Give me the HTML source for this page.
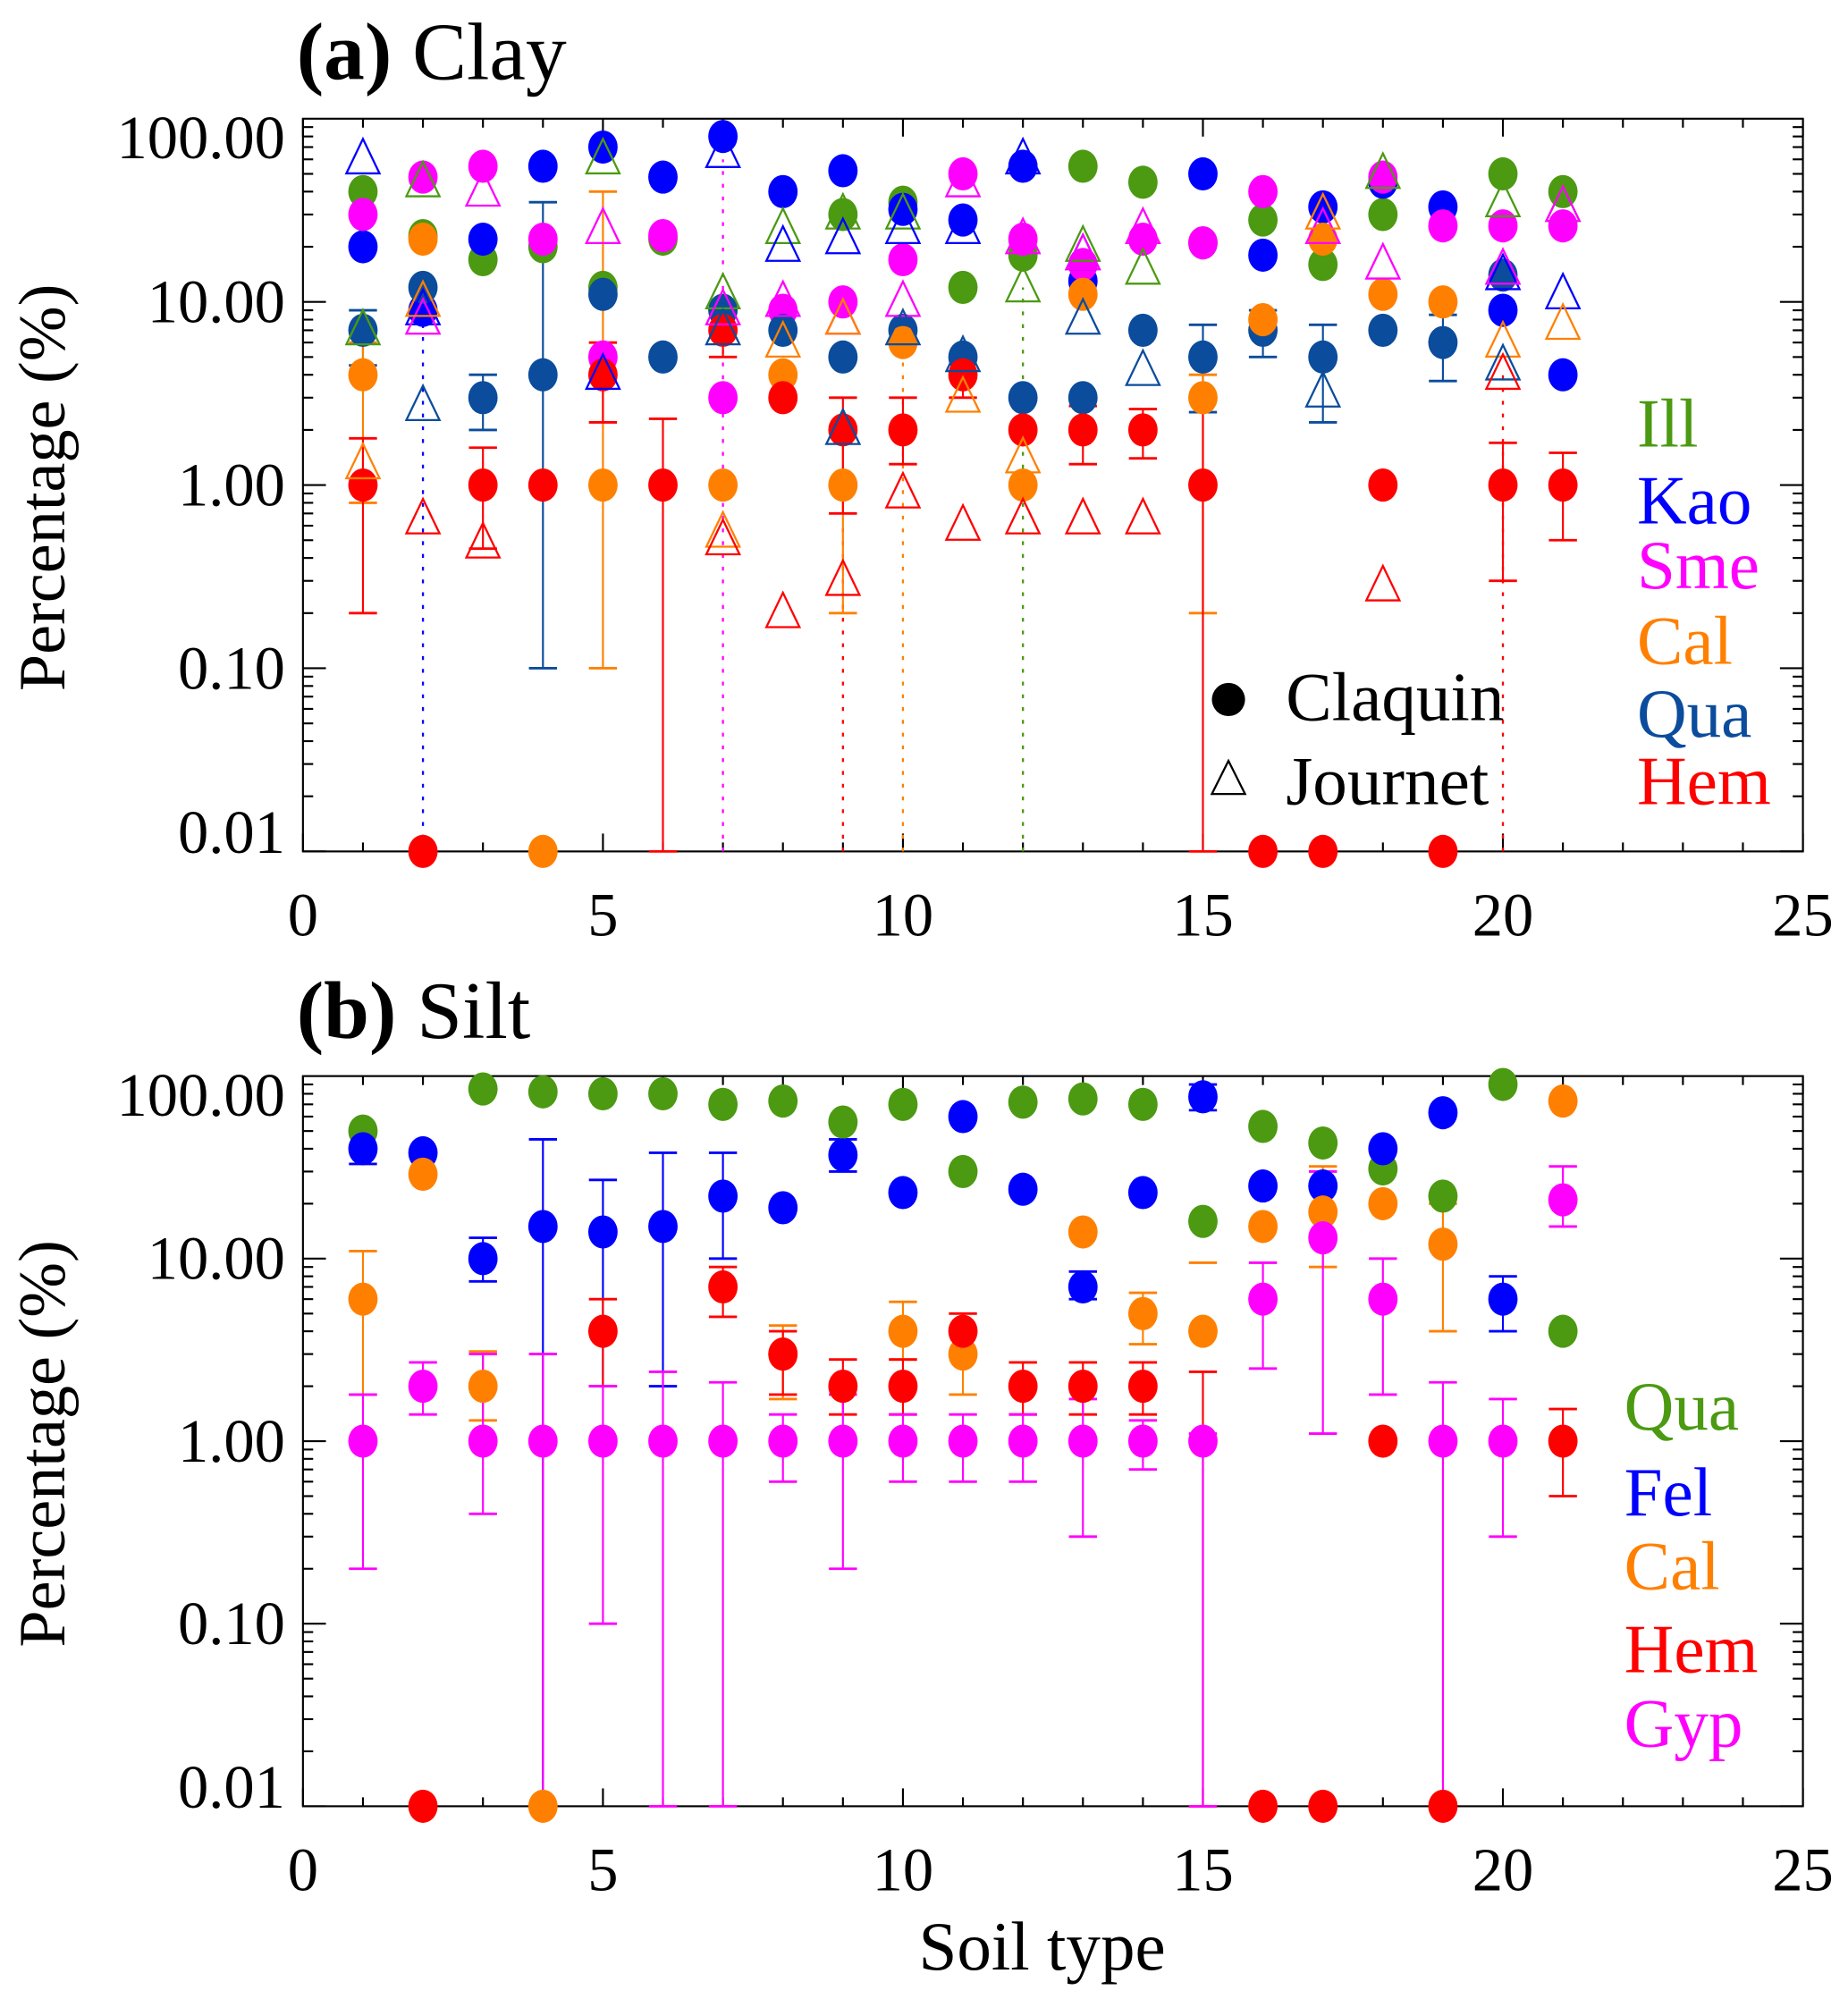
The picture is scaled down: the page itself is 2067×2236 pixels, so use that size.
<!DOCTYPE html>
<html><head><meta charset="utf-8"><style>
html,body{margin:0;padding:0;background:#fff}
svg{display:block}
text{font-family:"Liberation Serif",serif}
</style></head><body>
<svg id="fig" width="2067" height="2236" viewBox="0 0 1447 1566" xmlns="http://www.w3.org/2000/svg"></svg>
<script>
// ---------- data ----------
const soilTypes = [1,2,3,4,5,6,7,8,9,10,11,12,13,14,15,16,17,18,19,20,21];
// Panel (a) Clay - Claquin (filled circles)
const clayIll = [40,23,17,20,12,22,9,null,30,35,12,18,55,45,21,28,16,30,null,50,40];
const clayKao = [20,9,22,55,70,48,80,40,52,32,28,55,13,null,50,18,33,45,33,9,4];
const claySme = [30,48,55,22,5,23,3,9,10,17,50,22,16,22,21,40,null,48,26,26,26];
const clayCal = [4,22,null,0.01,1,null,1,4,1,6,null,1,11,null,3,8,22,11,10,null,null];
const clayQua = [7,12,3,4,11,5,9,7,5,7,5,3,3,7,5,7,5,7,6,14,null];
const clayHem = [1,0.01,1,1,4,1,7,3,2,2,4,2,2,2,1,0.01,0.01,1,0.01,1,1];
// Panel (a) Clay - Journet (open triangles)
const jIll = [7,45,null,null,60,null,11,25,30,30,null,12,20,15,null,null,null,50,null,35,33];
const jKao = [60,9,null,null,4,null,65,20,22,25,25,60,18,null,null,null,null,null,null,14,11];
const jSme = [null,8,40,null,25,null,9,10,8,10,45,22,18,25,null,null,25,16,null,15,33];
const jCal = [1.3,10,null,null,null,null,0.55,6,8,null,3,1.4,null,null,null,null,30,null,null,6,7.5];
const jQua = [null,2.7,null,null,null,null,7,null,2,7,5,null,8,4.2,null,null,3.2,null,null,4.5,null];
const jHem = [null,0.65,0.48,null,null,null,0.5,0.2,0.3,0.9,0.6,0.65,0.65,0.65,null,null,null,0.28,null,4,null];
// error bars for clay (lo, hi) keyed by soil type
const clayHemLo = [0.2,null,0.45,null,2.2,0.01,5,null,0.7,1.3,3,null,1.3,1.4,0.01,null,null,null,null,0.3,0.5];
const clayHemHi = [1.8,null,1.6,null,6,2.3,9,null,3,3,5,null,2.7,2.6,3,null,null,null,null,1.7,1.5];
const clayQuaLo = [4.5,null,2,0.1,null,null,null,null,null,null,null,null,null,null,2.5,5,2.2,null,3.7,null,null];
const clayQuaHi = [9,null,4,35,null,null,null,null,null,null,null,null,null,null,7.5,9,7.5,null,8.5,null,null];
const clayCalLo = [0.8,null,null,null,0.1,null,null,null,0.2,null,null,null,null,null,0.2,null,null,null,null,null,null];
const clayCalHi = [6,null,null,null,40,null,null,null,2,null,null,null,null,null,4,null,null,null,null,null,null];
const jDotSoil = [2,7,9,10,12,20];
const jDotTop = [10,60,0.6,6,12,4];
const jDotColor = ['#0000ff','#ff00ff','#ff0000','#ff8000','#4b9a12','#ff0000'];
// Panel (b) Silt
const siltQua = [50,null,85,82,80,80,70,73,56,70,30,72,75,70,16,53,43,31,22,90,4];
const siltFel = [40,38,10,15,14,15,22,19,37,23,60,24,7,23,77,25,25,40,63,6,null];
const siltCal = [6,29,2,0.01,null,null,null,3,null,4,3,null,14,5,4,15,18,20,12,null,73];
const siltHem = [null,0.01,null,null,4,null,7,3,2,2,4,2,2,2,null,0.01,0.01,1,0.01,null,1];
const siltGyp = [1,2,1,1,1,1,1,1,1,1,1,1,1,1,1,6,13,6,1,1,21];
const siltGypLo = [0.2,1.4,0.4,0.01,0.1,0.01,0.01,0.6,0.2,0.6,0.6,0.6,0.3,0.7,0.01,2.5,1.1,1.8,0.01,0.3,15];
const siltGypHi = [1.8,2.7,3,3,2,2.4,2.1,1.4,1.8,1.4,1.4,1.4,1.7,1.3,1.1,9.5,30,10,2.1,1.7,32];
const siltFelLo = [33,null,7.5,0.01,2,2,10,null,30,null,null,null,6,null,65,null,null,null,null,4,null];
const siltFelHi = [48,null,13,45,27,38,38,null,45,null,null,null,8.5,null,90,null,null,null,null,8,null];
const siltHemLo = [null,null,null,null,2,null,4.8,1.8,1.4,1.4,3,1.4,1.4,1.4,0.01,null,null,null,null,null,0.5];
const siltHemHi = [null,null,null,null,6,null,9,4,2.8,2.8,5,2.7,2.7,2.7,2.4,null,null,null,null,null,1.5];
const siltCalLo = [1.8,null,1.3,null,null,null,null,1.7,null,2.8,1.8,null,null,3.4,null,null,9,null,4,null,null];
const siltCalHi = [11,null,3.1,null,null,null,null,4.3,null,5.8,4.2,null,null,6.5,9.5,null,32,null,20,null,null];
const xTicks = [0,5,10,15,20,25];
const yTickVals = [0.01,0.1,1,10,100];
const yTickLabels = ['0.01','0.10','1.00','10.00','100.00'];

const C = {ill:'#4b9a12',kao:'#0000ff',sme:'#ff00ff',cal:'#ff8000',qua:'#0b4c9c',hem:'#ff0000'};
const NS='http://www.w3.org/2000/svg';
const svg=document.getElementById('fig');
function mk(tag,attrs,parent){const e=document.createElementNS(NS,tag);for(const k in attrs)e.setAttribute(k,attrs[k]);(parent||svg).appendChild(e);return e;}

function panel(top,bottom,name){
  const L=237,R=1412;
  const g=mk('g',{});
  
  
  const xs=v=>L+(v/25)*(R-L);
  const ys=v=>bottom-(Math.log10(v)+2)/4*(bottom-top);
  const frame=mk('rect',{x:L,y:top,width:R-L,height:bottom-top,fill:'none',stroke:'#000','stroke-width':1.5},g);
  
  
  for(let v=0;v<=25;v++){
    const major=v%5===0, len=major?14:7;
    mk('line',{x1:xs(v),x2:xs(v),y1:bottom,y2:bottom-len,stroke:'#000','stroke-width':1.5},g);
    mk('line',{x1:xs(v),x2:xs(v),y1:top,y2:top+len,stroke:'#000','stroke-width':1.5},g);
  }
  xTicks.forEach(v=>{
    const t=mk('text',{x:xs(v),y:bottom+66,'font-size':48,'text-anchor':'middle'},g);
    t.textContent=String(v);
    
    
  });
  for(let d=-2;d<2;d++){
    for(let m=1;m<=9;m++){
      const v=m*Math.pow(10,d);
      const len=m===1?18:8;
      mk('line',{x1:L,x2:L+len,y1:ys(v),y2:ys(v),stroke:'#000','stroke-width':1.5},g);
      mk('line',{x1:R,x2:R-len,y1:ys(v),y2:ys(v),stroke:'#000','stroke-width':1.5},g);
    }
  }
  yTickVals.forEach((v,i)=>{
    const yy=Math.min(Math.max(ys(v),top+15),bottom-15);
    const t=mk('text',{x:L-14,y:yy+16,'font-size':48,'text-anchor':'end'},g);
    t.textContent=yTickLabels[i];
    
    
  });
  const yt=mk('text',{x:0,y:0,'font-size':52,'text-anchor':'middle',transform:`translate(50,${(top+bottom)/2+2}) rotate(-90)`},g);
  yt.textContent='Percentage (%)';
  
  
  return {g,xs,ys};
}
function errbars(p,lo,hi,col,dash){
  soilTypes.forEach((s,i)=>{
    if(lo[i]==null&&hi[i]==null)return;
    const y1=lo[i]!=null?p.ys(lo[i]):null, y2=hi[i]!=null?p.ys(hi[i]):null;
    const x=p.xs(s);
    const l=mk('line',{x1:x,x2:x,y1:y1??y2,y2:y2??y1,stroke:col,'stroke-width':1.5},p.g);
    if(dash)l.setAttribute('stroke-dasharray','3,7');
    
    
    [y1,y2].forEach(yy=>{if(yy!=null)mk('line',{x1:x-11,x2:x+11,y1:yy,y2:yy,stroke:col,'stroke-width':2},p.g);});
  });
}
function circles(p,vals,col,name){
  soilTypes.forEach((s,i)=>{
    if(vals[i]==null)return;
    const c=mk('ellipse',{cx:p.xs(s),cy:p.ys(vals[i]),rx:11.5,ry:13,fill:col},p.g);
    
    
  });
}
function triangles(p,vals,col,name){
  soilTypes.forEach((s,i)=>{
    if(vals[i]==null)return;
    const x=p.xs(s),y=p.ys(vals[i]);
    const t=mk('polygon',{points:`${x},${y-16} ${x-13},${y+11} ${x+13},${y+11}`,fill:'none',stroke:col,'stroke-width':1.6},p.g);
    
    
  });
}
function label(x,y,txt,col,size,name){
  const t=mk('text',{x:x,y:y,'font-size':size,fill:col},svg);
  t.textContent=txt;
  
  
  return t;
}

// ---------- panel a ----------
const pa=panel(93,667,'clay-panel');
jDotSoil.forEach((s,i)=>{
  const l=mk('line',{x1:pa.xs(s),x2:pa.xs(s),y1:pa.ys(0.01),y2:pa.ys(jDotTop[i]),stroke:jDotColor[i],'stroke-width':1.6,'stroke-dasharray':'3,7'},pa.g);
  
  
});
errbars(pa,clayQuaLo,clayQuaHi,C.qua);
errbars(pa,clayCalLo,clayCalHi,C.cal);
errbars(pa,clayHemLo,clayHemHi,C.hem);
circles(pa,clayIll,C.ill,'clay-ill');
circles(pa,clayKao,C.kao,'clay-kao');
circles(pa,claySme,C.sme,'clay-sme');
circles(pa,clayQua,C.qua,'clay-qua');
circles(pa,clayCal,C.cal,'clay-cal');
circles(pa,clayHem,C.hem,'clay-hem');
triangles(pa,jIll,C.ill,'journet-ill');
triangles(pa,jKao,C.kao,'journet-kao');
triangles(pa,jSme,C.sme,'journet-sme');
triangles(pa,jCal,C.cal,'journet-cal');
triangles(pa,jQua,C.qua,'journet-qua');
triangles(pa,jHem,C.hem,'journet-hem');
const lc=mk('circle',{cx:962,cy:548,r:13,fill:'#000'});

label(1007,564,'Claquin','#000',54,'legend-claquin');
const lt=mk('polygon',{points:'962,596 949,622 975,622',fill:'none',stroke:'#000','stroke-width':1.6});

label(1007,630,'Journet','#000',54,'legend-journet');
[['Ill',C.ill,350],['Kao',C.kao,410],['Sme',C.sme,461],['Cal',C.cal,520],['Qua',C.qua,577],['Hem',C.hem,630]].forEach(([t,c,y])=>label(1282,y,t,c,54,'legend-clay-'+t.toLowerCase()));
const ta=label(232,62,'','#000',64,'panel-a-title');
ta.innerHTML='<tspan font-weight="bold">(a)</tspan> Clay';

// ---------- panel b ----------
const pb=panel(843,1415,'silt-panel');
errbars(pb,siltFelLo,siltFelHi,C.kao);
errbars(pb,siltCalLo,siltCalHi,C.cal);
errbars(pb,siltHemLo,siltHemHi,C.hem);
errbars(pb,siltGypLo,siltGypHi,C.sme);
circles(pb,siltQua,C.ill,'silt-qua');
circles(pb,siltFel,C.kao,'silt-fel');
circles(pb,siltCal,C.cal,'silt-cal');
circles(pb,siltHem,C.hem,'silt-hem');
circles(pb,siltGyp,C.sme,'silt-gyp');
[['Qua',C.ill,1120],['Fel',C.kao,1187],['Cal',C.cal,1245],['Hem',C.hem,1310],['Gyp',C.sme,1368]].forEach(([t,c,y])=>label(1272,y,t,c,54,'legend-silt-'+t.toLowerCase()));
const tb=label(232,813,'','#000',64,'panel-b-title');
tb.innerHTML='<tspan font-weight="bold">(b)</tspan> Silt';
const xt=label(816,1543,'Soil type','#000',54,'x-axis-title');
xt.setAttribute('text-anchor','middle');
</script>
</body></html>
